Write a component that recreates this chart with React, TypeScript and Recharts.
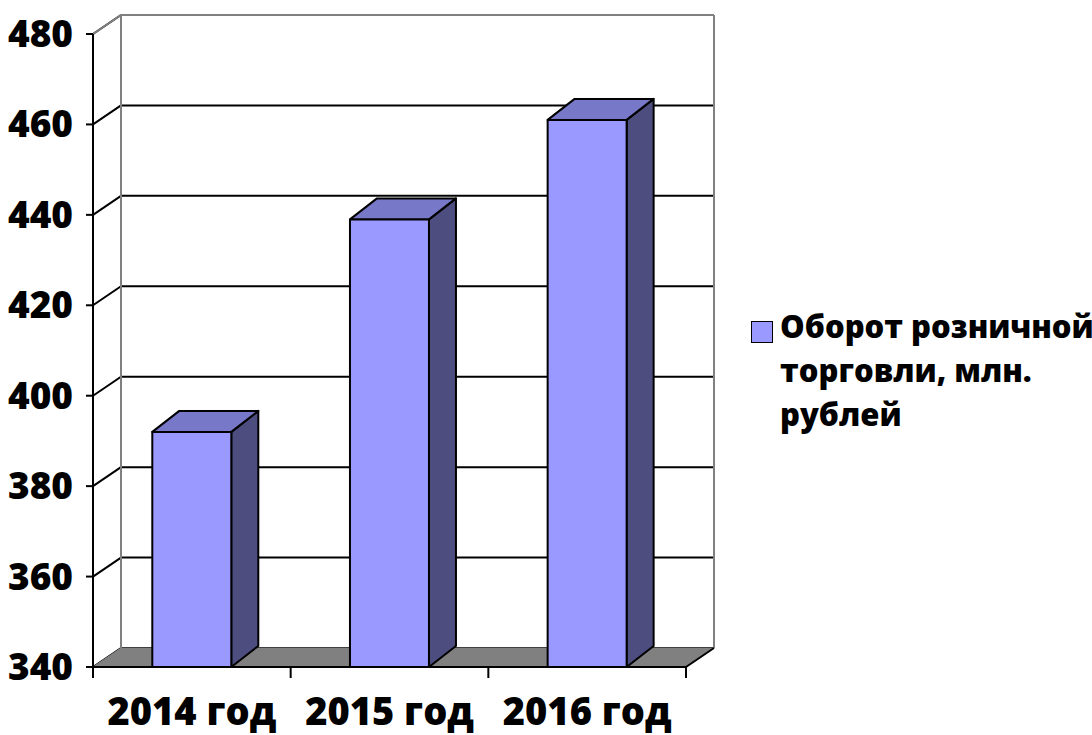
import { BarChart, Bar, XAxis, YAxis, CartesianGrid, ReferenceArea } from 'recharts'

const categories = ['2014 год', '2015 год', '2016 год']
const turnover = [392, 439, 461]
const yTicks = [340, 360, 380, 400, 420, 440, 460, 480]
const seriesName = 'Оборот розничной торговли, млн. рублей'
const legendLines = ['Оборот розничной', 'торговли, млн.', 'рублей']

const data = categories.map((c, i) => ({ year: c, value: turnover[i] }))

const FONT = '"Open Sans", "Noto Sans", sans-serif'
// depth of the 3d box (walls) and of the bars
const WDX = 28, WDY = 19
const BDX = 27, BDY = 21

function Box3D(props: any) {
  const { x, y, width, height, fill } = props
  if (height <= 0) return null
  const r = x + width, b = y + height
  return (
    <g stroke="#000" strokeWidth={2} strokeLinejoin="round">
      <polygon points={`${r},${y} ${r + BDX},${y - BDY} ${r + BDX},${b - BDY} ${r},${b}`} fill="#4d4d80" />
      <polygon points={`${x},${y} ${r},${y} ${r + BDX},${y - BDY} ${x + BDX},${y - BDY}`} fill="#7878c8" />
      <rect x={x} y={y} width={width} height={height} fill={fill} />
    </g>
  )
}

function WallFloor(props: any) {
  const { x, y, width, height } = props
  const r = x + width, b = y + height
  return (
    <g>
      <line x1={x} y1={y} x2={x + WDX} y2={y - WDY} stroke="#808080" strokeWidth={2} />
      <line x1={x + WDX} y1={y - WDY} x2={r + WDX} y2={y - WDY} stroke="#808080" strokeWidth={2} />
      <line x1={x + WDX} y1={y - WDY} x2={x + WDX} y2={b - WDY} stroke="#808080" strokeWidth={2} />
      <line x1={r + WDX} y1={y - WDY} x2={r + WDX} y2={b - WDY} stroke="#808080" strokeWidth={2} />
      <polygon points={`${x},${b} ${r},${b} ${r + WDX},${b - WDY} ${x + WDX},${b - WDY}`} fill="#808080" stroke="#808080" strokeWidth={1} />
      <line x1={r} y1={b} x2={r + WDX} y2={b - WDY} stroke="#000" strokeWidth={2} />
    </g>
  )
}

function GridLine(props: any) {
  const { x1, y1, x2, index } = props
  return (
    <g key={'g' + index}>
      <line x1={x1 + WDX} y1={y1 - WDY} x2={x2 + WDX} y2={y1 - WDY} stroke="#000" strokeWidth={2} />
      <line x1={x1} y1={y1} x2={x1 + WDX} y2={y1 - WDY} stroke="#000" strokeWidth={2} />
    </g>
  )
}

function XTick(props: any) {
  const { x, y, payload, index, width } = props
  const half = payload.offset ?? width / categories.length / 2
  return (
    <g>
      <line x1={x - half} y1={y} x2={x - half} y2={y + 11} stroke="#000" strokeWidth={2} />
      {index === categories.length - 1 && (
        <line x1={x + half} y1={y} x2={x + half} y2={y + 11} stroke="#000" strokeWidth={2} />
      )}
      <text x={x} y={y + 58} textAnchor="middle" fontSize={38} fontFamily={FONT} fill="#000" style={{ fontWeight: 800 }}>
        {payload.value}
      </text>
    </g>
  )
}

function YTick(props: any) {
  const { x, y, payload } = props
  return (
    <text x={x} y={y + 13} textAnchor="end" fontSize={37} fontFamily={FONT} fill="#000" style={{ fontWeight: 800 }}>
      {payload.value}
    </text>
  )
}

export default function App() {
  return (
    <div style={{ position: 'absolute', left: 0, top: 0, width: 1092, height: 735, background: '#fff' }}>
      <BarChart width={1092} height={735} data={data} margin={{ top: 34, right: 406, bottom: 0, left: 0 }} barCategoryGap="30%">
        <CartesianGrid vertical={false} horizontal={GridLine as any} />
        <ReferenceArea y1={340} y2={480} shape={WallFloor} fill="none" stroke="none" />
        <XAxis dataKey="year" height={68} axisLine={{ stroke: '#000', strokeWidth: 2 }} tickLine={false}
          tickSize={0} tickMargin={0} tick={XTick} interval={0} />
        <YAxis width={93} domain={[340, 480]} ticks={yTicks} interval={0}
          axisLine={{ stroke: '#000', strokeWidth: 2 }} tickLine={{ stroke: '#000', strokeWidth: 2 }}
          tickSize={7} tickMargin={13} tick={YTick} />
        <Bar dataKey="value" name={seriesName} fill="#9999ff" shape={Box3D} isAnimationActive={false} />
      </BarChart>
      <div style={{ position: 'absolute', left: 751, top: 321, width: 20, height: 20, background: '#9999ff', border: '1.5px solid #000' }} />
      <div style={{ position: 'absolute', left: 780, top: 304, fontFamily: FONT, fontWeight: 800, fontSize: 31, lineHeight: '44px', whiteSpace: 'nowrap', color: '#000' }}>
        {legendLines.map((l) => <div key={l}>{l}</div>)}
      </div>
    </div>
  )
}
